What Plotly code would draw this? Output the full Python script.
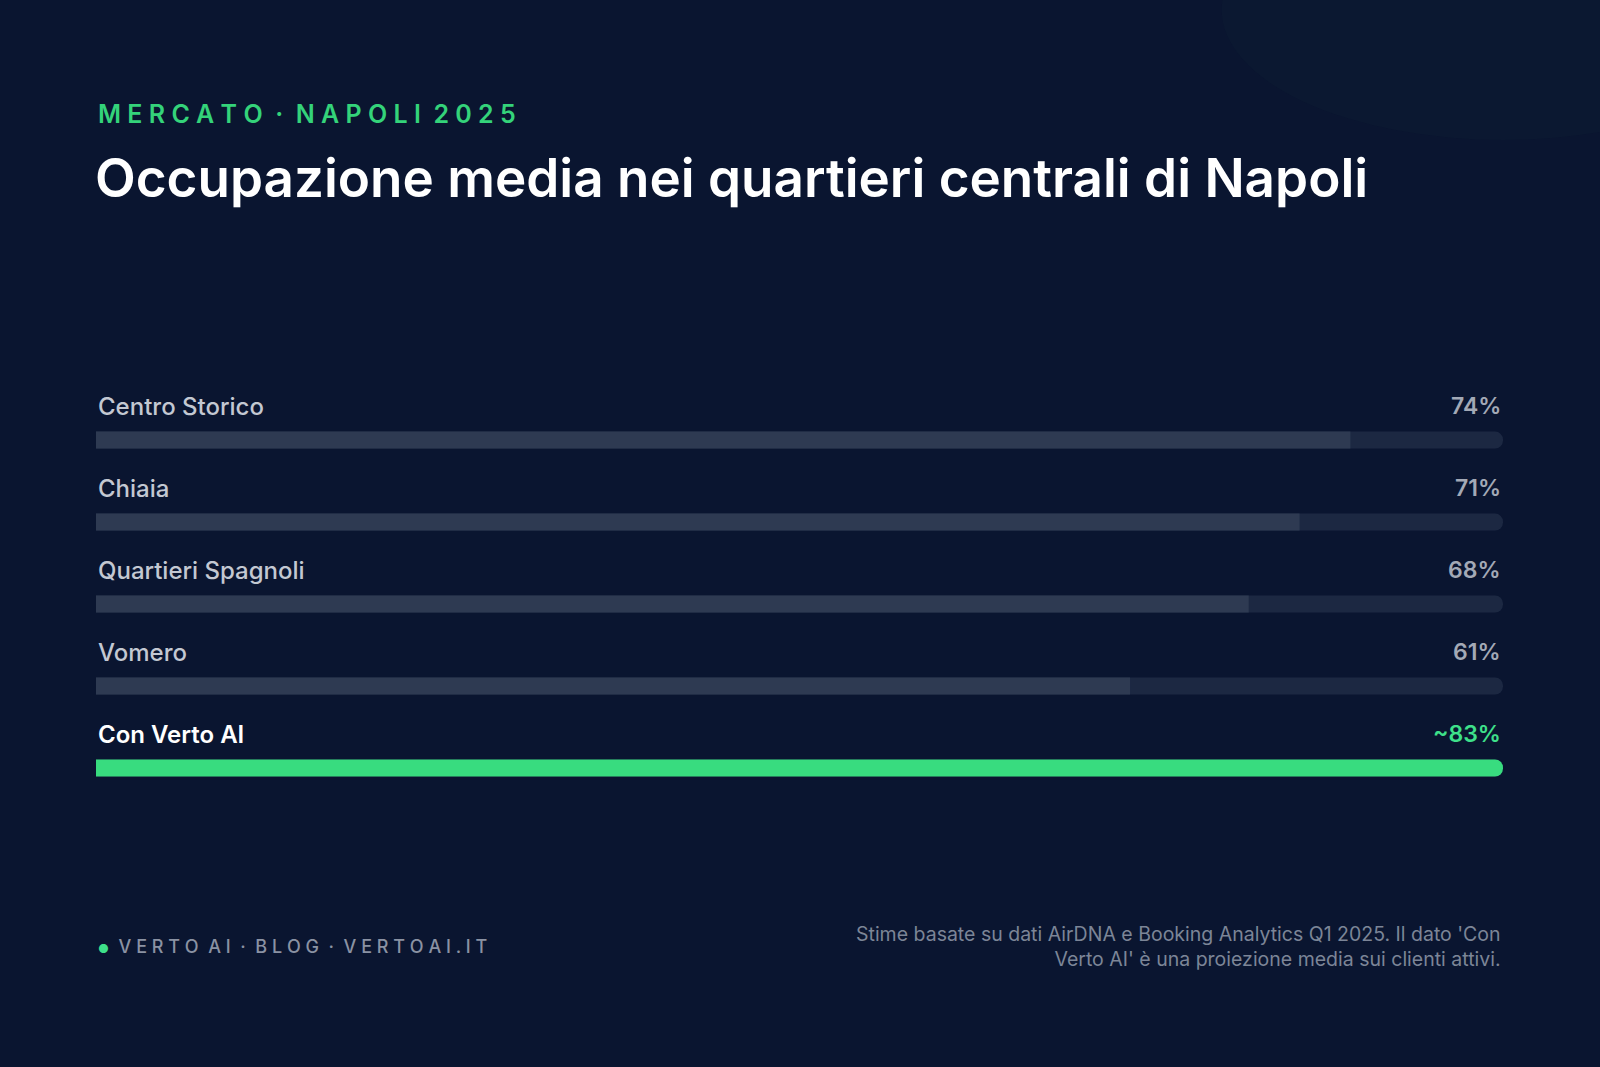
import plotly.graph_objects as go

categories = ["Centro Storico", "Chiaia", "Quartieri Spagnoli", "Vomero", "Con Verto AI"]
values = [74, 71, 68, 61, 83]
value_labels = ["74%", "71%", "68%", "61%", "~83%"]
scale_max = 83

W, H = 1600, 1067
ML, MR, PT, PB = 96, 97, 380, 800
def py(p):  # pixel y -> paper y
    return (PB - p) / (PB - PT)

ypos = list(range(len(categories)))
fill_colors = ["#2e3a52"] * 4 + ["#38dc7f"]

fig = go.Figure()
fig.add_trace(go.Bar(x=[scale_max] * len(categories), y=ypos, orientation="h",
                     marker=dict(color="#1c2842", line_width=0), width=0.207,
                     hoverinfo="skip", showlegend=False))
fig.add_trace(go.Bar(x=values, y=ypos, orientation="h",
                     marker=dict(color=fill_colors, line_width=0), width=0.207,
                     showlegend=False))

ann = []
for i, (c, v) in enumerate(zip(categories, value_labels)):
    last = i == len(categories) - 1
    ann.append(dict(x=0, y=i, xref="x", yref="y", yshift=34, text=c,
                    showarrow=False, xanchor="left", yanchor="middle",
                    font=dict(size=24, color="#ffffff" if last else "#c3c8d2", family="Inter",
                              weight=600 if last else 500)))
    ann.append(dict(x=1, y=i, xref="paper", yref="y", yshift=34, text=v,
                    showarrow=False, xanchor="right", yanchor="middle",
                    font=dict(size=23, color="#3ee08a" if last else "#a3a9b6", family="Inter", weight=600)))

ann += [
    dict(x=0, y=py(114), xref="paper", yref="paper", text="M E R C A T O  ·  N A P O L I  2 0 2 5",
         showarrow=False, xanchor="left", yanchor="middle",
         font=dict(size=25, color="#34d37a", family="Inter", weight=600)),
    dict(x=-0.002, y=py(178), xref="paper", yref="paper", text="Occupazione media nei quartieri centrali di Napoli",
         showarrow=False, xanchor="left", yanchor="middle",
         font=dict(size=53, color="#ffffff", family="Inter", weight=600)),
    dict(x=0, y=py(946), xref="paper", yref="paper",
         text="<span style='color:#3ee08a;font-size:12px'>●</span>  V E R T O  A I  ·  B L O G  ·  V E R T O A I . I T",
         showarrow=False, xanchor="left", yanchor="middle",
         font=dict(size=18, color="#8a92a3", family="Inter", weight=500)),
    dict(x=1, y=py(946), xref="paper", yref="paper", align="right",
         text="Stime basate su dati AirDNA e Booking Analytics Q1 2025. Il dato 'Con<br>Verto AI' è una proiezione media sui clienti attivi.",
         showarrow=False, xanchor="right", yanchor="middle",
         font=dict(size=19.5, color="#7c8597", family="Inter")),
]

fig.update_layout(
    width=W, height=H, barmode="overlay", barcornerradius=9,
    margin=dict(l=ML, r=MR, t=PT, b=H - PB),
    paper_bgcolor="#0a1530", plot_bgcolor="rgba(0,0,0,0)",
    xaxis=dict(range=[0, scale_max], visible=False, fixedrange=True),
    yaxis=dict(range=[4.39, -0.732], visible=False, fixedrange=True),
    annotations=ann,
    shapes=[dict(type="circle", xref="paper", yref="paper", x0=0.8, x1=1.2, y0=py(-120), y1=py(140),
                 fillcolor="rgba(40,110,80,0.04)", line_width=0, layer="below")],
)
fig.write_html("out.html", config={"displayModeBar": False},
               post_script="document.body.style.margin='0';document.body.style.background='#0a1530';")
